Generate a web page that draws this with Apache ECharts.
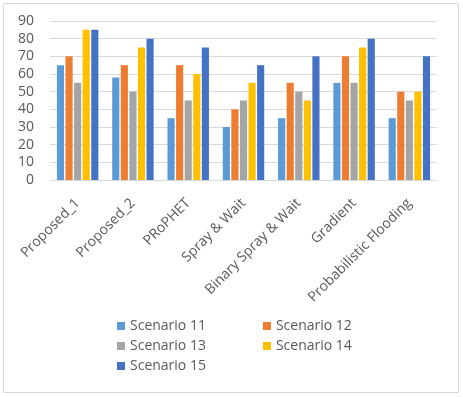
<!DOCTYPE html>
<html><head><meta charset="utf-8">
<script src="https://cdn.jsdelivr.net/npm/echarts@6/dist/echarts.min.js"></script>
<style>html,body{margin:0;padding:0;background:#fff}#c{width:463px;height:397px}</style>
</head><body><div id="c"></div>
<script>
const categories = ["Proposed_1","Proposed_2","PRoPHET","Spray & Wait","Binary Spray & Wait","Gradient","Probabilistic Flooding"];
const seriesNames = ["Scenario 11","Scenario 12","Scenario 13","Scenario 14","Scenario 15"];
const s11 = [65,58,35,30,35,55,35];
const s12 = [70,65,65,40,55,70,50];
const s13 = [55,50,45,45,50,55,45];
const s14 = [85,75,60,55,45,75,50];
const s15 = [85,80,75,65,70,80,70];
const yTicks = [0,10,20,30,40,50,60,70,80,90];
const colors = ["#5B9BD5","#ED7D31","#A5A5A5","#FFC000","#4472C4"];
const values = [s11,s12,s13,s14,s15];
const font = "'Open Sans', sans-serif";
const chart = echarts.init(document.getElementById('c'));
const legendText = {color:'#595959', fontSize:14, fontFamily:font};
function lg(names, left, top){
  return {data:names, left:left, top:top, orient:'horizontal', itemWidth:8, itemHeight:8, itemGap:57,
    icon:'rect', textStyle:legendText, padding:0};
}
chart.setOption({
  animation:false,
  color:colors,
  graphic:[{type:'rect', shape:{x:3.5,y:3.5,width:455,height:389}, style:{fill:'none', stroke:'#D9D9D9', lineWidth:1}}],
  grid:{left:50, right:26, top:21, bottom:217},
  legend:[lg([seriesNames[0],seriesNames[1]],117,319), lg([seriesNames[2],seriesNames[3]],117,339), lg([seriesNames[4]],117,359)],
  xAxis:{type:'category', data:categories,
    axisLine:{lineStyle:{color:'#D9D9D9'}}, axisTick:{show:false},
    axisLabel:{rotate:45, color:'#595959', fontSize:14, fontFamily:font, margin:21, interval:0}},
  yAxis:{type:'value', min:yTicks[0], max:yTicks[yTicks.length-1], interval:10,
    axisLine:{show:false}, axisTick:{show:false},
    splitLine:{lineStyle:{color:'#D9D9D9'}},
    axisLabel:{color:'#595959', fontSize:14, fontFamily:font, margin:16}},
  series: seriesNames.map((n,i)=>({name:n, type:'bar', data:values[i], barGap:'20%', barCategoryGap:'25%',
    itemStyle:{color:colors[i]}}))
});
</script></body></html>
